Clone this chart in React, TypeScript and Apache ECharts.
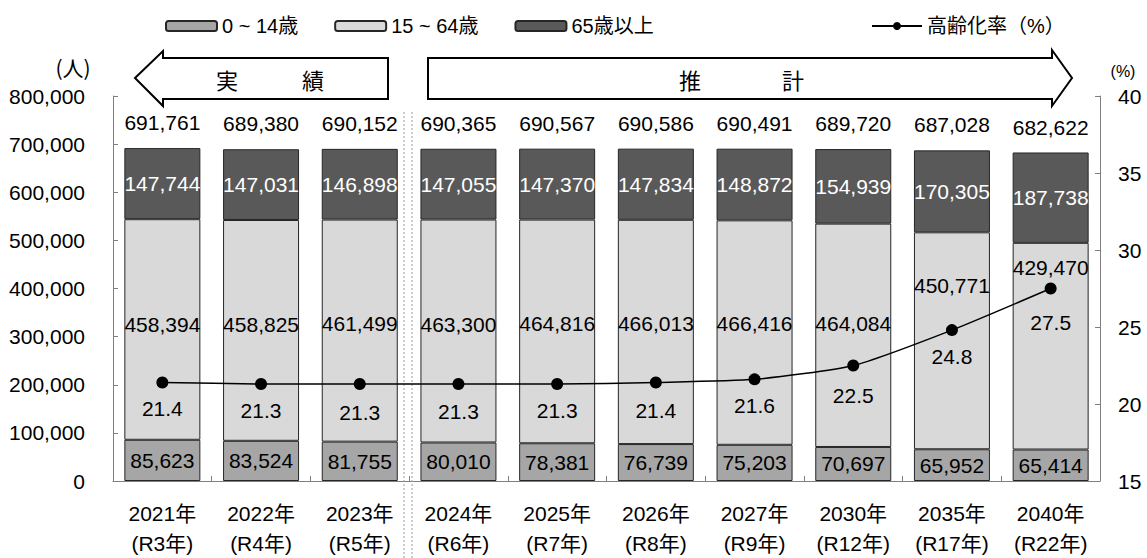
import React, { useEffect, useRef } from "react";
import * as echarts from "echarts";

const categories = [
  "2021年\n(R3年)",
  "2022年\n(R4年)",
  "2023年\n(R5年)",
  "2024年\n(R6年)",
  "2025年\n(R7年)",
  "2026年\n(R8年)",
  "2027年\n(R9年)",
  "2030年\n(R12年)",
  "2035年\n(R17年)",
  "2040年\n(R22年)",
];
const age0to14 = [85623, 83524, 81755, 80010, 78381, 76739, 75203, 70697, 65952, 65414];
const age15to64 = [458394, 458825, 461499, 463300, 464816, 466013, 466416, 464084, 450771, 429470];
const age65plus = [147744, 147031, 146898, 147055, 147370, 147834, 148872, 154939, 170305, 187738];
const totals = [691761, 689380, 690152, 690365, 690567, 690586, 690491, 689720, 687028, 682622];
const agingRate = [21.4, 21.3, 21.3, 21.3, 21.3, 21.4, 21.6, 22.5, 24.8, 27.5];

const seriesNames = ["0 ~ 14歳", "15 ~ 64歳", "65歳以上", "高齢化率（%）"];
const leftTicks = { min: 0, max: 800000, interval: 100000 };
const rightTicks = { min: 15, max: 40, interval: 5 };

const FONT = "'Liberation Sans', Arial, 'Noto Sans CJK JP', sans-serif";
const CJK = "'Noto Sans CJK JP', 'Liberation Sans', sans-serif";

// label nudges for the 15-64 segment labels (px)
const midLabelShift = [-5, -6, -7, -7, -8, -8, -9, -12, -55, -79];
const rateLabelDist = [10, 10, 12, 11, 10, 12, 10, 13, 10, 17];

const fmt = (v: number) => v.toLocaleString("en-US");

export default function App() {
  const ref = useRef<HTMLDivElement>(null);
  useEffect(() => {
    if (!ref.current) return;
    const chart = echarts.init(ref.current, undefined, { renderer: "svg" });
    const barW = 76;
    const border = { borderColor: "#262626", borderWidth: 1 };
    const option: any = {
      animation: false,
      backgroundColor: "#ffffff",
      textStyle: { fontFamily: FONT, color: "#000" },
      grid: { left: 113, right: 47, top: 96, bottom: 75, containLabel: false },
      legend: [
        {
          data: seriesNames.slice(0, 3),
          left: 160,
          top: 11,
          itemWidth: 51,
          itemHeight: 10,
          itemGap: 36,
          selectedMode: false,
          textStyle: { fontSize: 20, fontFamily: FONT, color: "#000" },
        },
        {
          data: [seriesNames[3]],
          left: 866,
          top: 11,
          itemWidth: 50,
          itemHeight: 10,
          selectedMode: false,
          textStyle: { fontSize: 20, fontFamily: FONT, color: "#000" },
        },
      ],
      xAxis: {
        type: "category",
        data: categories,
        axisLine: { lineStyle: { color: "#808080", width: 1 } },
        axisTick: { show: true, inside: true, length: 5, lineStyle: { color: "#808080" } },
        axisLabel: {
          fontSize: 21,
          lineHeight: 30,
          margin: 17,
          color: "#000",
          fontFamily: FONT,
        },
      },
      yAxis: [
        {
          type: "value",
          ...leftTicks,
          splitLine: { show: false },
          axisLine: { show: true, lineStyle: { color: "#808080", width: 1 } },
          axisTick: { show: true, inside: true, length: 5, lineStyle: { color: "#808080" } },
          axisLabel: { fontSize: 21, margin: 28, color: "#000", formatter: (v: number) => fmt(v) },
        },
        {
          type: "value",
          ...rightTicks,
          position: "right",
          splitLine: { show: false },
          axisLine: { show: true, lineStyle: { color: "#808080", width: 1 } },
          axisTick: { show: true, inside: true, length: 5, lineStyle: { color: "#808080" } },
          axisLabel: { fontSize: 21, margin: 18, color: "#000" },
        },
      ],
      series: [
        {
          name: seriesNames[0],
          type: "bar",
          stack: "pop",
          barWidth: barW,
          data: age0to14,
          itemStyle: { color: "#a6a6a6", ...border },
          label: {
            show: true,
            position: "inside",
            fontSize: 21,
            color: "#000",
            formatter: (p: any) => fmt(p.value),
          },
          z: 2,
        },
        {
          name: seriesNames[1],
          type: "bar",
          stack: "pop",
          barWidth: barW,
          data: age15to64.map((v, i) => ({ value: v, label: { offset: [0, midLabelShift[i]] } })),
          itemStyle: { color: "#d9d9d9", ...border },
          label: {
            show: true,
            position: "inside",
            fontSize: 21,
            color: "#000",
            formatter: (p: any) => fmt(p.value),
          },
          z: 2,
        },
        {
          name: seriesNames[2],
          type: "bar",
          stack: "pop",
          barWidth: barW,
          data: age65plus,
          itemStyle: { color: "#595959", ...border },
          label: {
            show: true,
            position: "inside",
            fontSize: 21,
            color: "#fff",
            formatter: (p: any) => fmt(p.value),
          },
          z: 2,
        },
        {
          name: "total",
          type: "bar",
          barWidth: barW,
          barGap: "-100%",
          data: totals,
          itemStyle: { color: "rgba(0,0,0,0)", borderWidth: 0 },
          label: {
            show: true,
            position: "top",
            distance: 15,
            fontSize: 21,
            color: "#000",
            formatter: (p: any) => fmt(p.value),
          },
          z: 1,
          silent: true,
        },
        {
          name: seriesNames[3],
          type: "line",
          yAxisIndex: 1,
          smooth: 0.2,
          data: agingRate.map((v, i) => ({ value: v, label: { distance: rateLabelDist[i] } })),
          symbol: "circle",
          symbolSize: 12,
          lineStyle: { color: "#000", width: 1.5 },
          itemStyle: { color: "#000" },
          label: {
            show: true,
            position: "bottom",
            fontSize: 21,
            color: "#000",
            formatter: (p: any) => p.value.toFixed(1),
          },
          z: 5,
        },
      ],
      graphic: [
        {
          type: "polygon",
          shape: {
            points: [
              [135, 78],
              [163, 51],
              [163, 58],
              [388, 58],
              [388, 99],
              [163, 99],
              [163, 106],
            ],
          },
          style: { fill: "#fff", stroke: "#000", lineWidth: 2 },
          z: 10,
        },
        {
          type: "polygon",
          shape: {
            points: [
              [428, 58],
              [1052, 58],
              [1052, 50],
              [1072, 78],
              [1052, 106],
              [1052, 99],
              [428, 99],
            ],
          },
          style: { fill: "#fff", stroke: "#000", lineWidth: 2 },
          z: 10,
        },
        { type: "text", x: 227, y: 79, z: 11, style: { text: "実", font: `22px ${CJK}`, fill: "#000", align: "center", verticalAlign: "middle" } },
        { type: "text", x: 313, y: 79, z: 11, style: { text: "績", font: `22px ${CJK}`, fill: "#000", align: "center", verticalAlign: "middle" } },
        { type: "text", x: 690, y: 79, z: 11, style: { text: "推", font: `22px ${CJK}`, fill: "#000", align: "center", verticalAlign: "middle" } },
        { type: "text", x: 793, y: 79, z: 11, style: { text: "計", font: `22px ${CJK}`, fill: "#000", align: "center", verticalAlign: "middle" } },
        { type: "text", x: 73, y: 67, z: 11, style: { text: "(人)", font: `21px ${CJK}`, fill: "#000", align: "center", verticalAlign: "middle" } },
        { type: "text", x: 1123, y: 71, z: 11, style: { text: "(%)", font: `16px ${FONT}`, fill: "#000", align: "center", verticalAlign: "middle" } },
        {
          type: "line",
          shape: { x1: 404, y1: 112, x2: 404, y2: 558 },
          style: { stroke: "#9a9a9a", lineWidth: 1, lineDash: [2, 2] },
          z: 3,
        },
        {
          type: "line",
          shape: { x1: 412, y1: 112, x2: 412, y2: 558 },
          style: { stroke: "#9a9a9a", lineWidth: 1, lineDash: [2, 2] },
          z: 3,
        },
      ],
    };
    chart.setOption(option);
    return () => chart.dispose();
  }, []);
  return (
    <div
      ref={ref}
      style={{ position: "fixed", left: 0, top: 0, width: 1147, height: 558, background: "#fff" }}
    />
  );
}
